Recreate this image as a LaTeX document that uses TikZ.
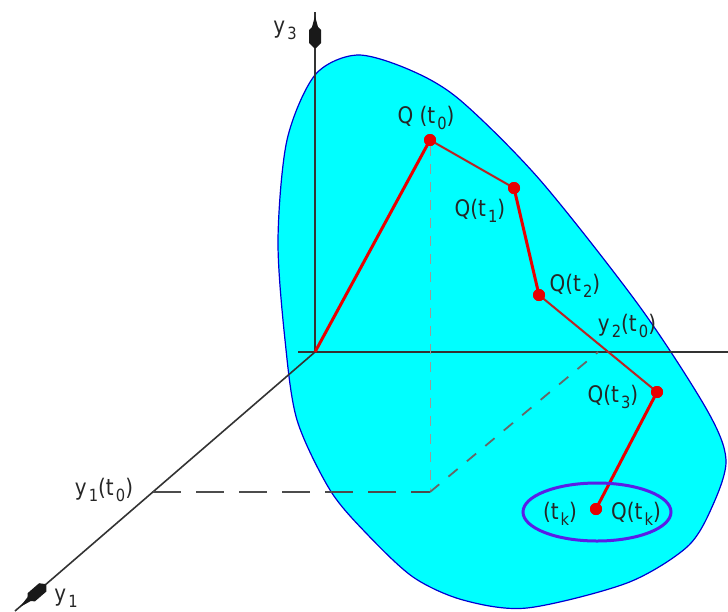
\documentclass[tikz,border=0pt]{standalone}
\usepackage{fontspec}
\setmainfont{DejaVu Sans}
\usepackage{graphicx}
\usetikzlibrary{arrows.meta,shapes.geometric}
\definecolor{blobfill}{RGB}{0,255,255}
\definecolor{blobedge}{RGB}{0,0,210}
\definecolor{qred}{RGB}{232,0,0}
\definecolor{qdark}{RGB}{185,35,35}
\definecolor{ellc}{RGB}{90,30,230}
\newcommand{\lbl}[1]{\scalebox{1.05}[1.2]{\fontsize{19}{19}\selectfont #1}}
\newcommand{\sbs}[1]{\kern2pt\raisebox{-5pt}{\fontsize{14}{14}\selectfont #1}}
\begin{document}
\begin{tikzpicture}[x=1pt,y=-1pt,
 dot/.style={circle,fill=qred,inner sep=0pt,minimum size=12pt},
 lab/.style={inner sep=0pt,text=black!85},
 axis/.style={draw=black!80,line width=1.6pt},
 arrowhd/.style={fill=black!90},
 pathA/.style={draw=qred,line width=3pt},
 pathB/.style={draw=qdark,line width=2pt},
 dashH/.style={draw=black!70,line width=2.2pt,dash pattern=on 28pt off 15pt},
 dashD/.style={draw=black!60,line width=1.8pt,dash pattern=on 12pt off 12pt},
 dashV/.style={draw=black!40,line width=1pt,dash pattern=on 10pt off 8pt},
 blob/.style={fill=blobfill,draw=blobedge,line width=1.2pt}]
\useasboundingbox (0,0) rectangle (728,611);
% surface
\path[blob] plot[smooth cycle] coordinates {(315,75) (357,55) (410,70) (460,100) (540,180) (640,307) (707,410) (726,460) (712,507) (687,547) (627,583) (527,608) (463,600) (413,577) (366,533) (330,490) (297,420) (285,340) (278,240) (287,140)};
% axes
\coordinate (O) at (315,352);
\coordinate (y3end) at (315,12);
\coordinate (y2start) at (298,352);
\coordinate (y2end) at (728,352);
\coordinate (y1end) at (15,611);
\draw[axis] (O) -- (y3end);
\draw[axis] (y2start) -- (y2end);
\draw[axis] (O) -- (y1end);
\fill[arrowhd] (315,16) -- (318,27) -- (321,30) -- (321,43) -- (316,48) -- (314,48) -- (309,43) -- (309,30) -- (312,27) -- cycle;
\fill[arrowhd] (20,607) -- (30.72,601.04) -- (34.96,601.35) -- (46.31,591.54) -- (46.39,585.52) -- (45.09,584.0) -- (39.11,583.22) -- (27.76,593.03) -- (27.45,597.26) -- cycle;
% points
\node[dot] (q0) at (430,140) {};
\node[dot] (q1) at (514,188) {};
\node[dot] (q2) at (539,295) {};
\node[dot] (q3) at (657,392) {};
\node[dot] (qk) at (596,509) {};
% projections
\coordinate (foot) at (430,492);
\coordinate (y1t0pt) at (153,492);
\coordinate (y2t0pt) at (598,352);
\draw[dashV] (q0.south) -- (foot);
\draw[dashH] (y1t0pt) -- (foot);
\draw[dashD] (foot) -- (y2t0pt);
% polyline
\draw[pathA] (O) -- (q0.center);
\draw[pathB] (q0.center) -- (q1.center);
\draw[pathA] (q1.center) -- (q2.center);
\draw[pathB] (q2.center) -- (q3.center);
\draw[pathA] (q3.center) -- (qk.center);
\foreach \p in {q0,q1,q2,q3,qk} {\fill[qred] (\p) circle[radius=6pt];}
% ellipse
\node[draw=ellc,line width=3pt,ellipse,minimum width=148pt,minimum height=58pt] (ell) at (597,512) {};
% labels
\node[lab] (ly3) at (285,30) {\lbl{y\sbs{3}}};
\node[lab] (lq0) at (426,118) {\lbl{Q (t\sbs{0})}};
\node[lab] (lq1) at (480,211) {\lbl{Q(t\sbs{1})}};
\node[lab] (lq2) at (575,286) {\lbl{Q(t\sbs{2})}};
\node[lab] (ly2) at (627,326) {\lbl{y\sbs{2}(t\sbs{0})}};
\node[lab] (lq3) at (613,397) {\lbl{Q(t\sbs{3})}};
\node[lab] (ltk) at (560,514) {\lbl{(t\sbs{k})}};
\node[lab] (lqk) at (636,514) {\lbl{Q(t\sbs{k})}};
\node[lab] (ly1t0) at (104,490) {\lbl{y\sbs{1}(t\sbs{0})}};
\node[lab] (ly1) at (66,598) {\lbl{y\sbs{1}}};
\end{tikzpicture}
\end{document}
